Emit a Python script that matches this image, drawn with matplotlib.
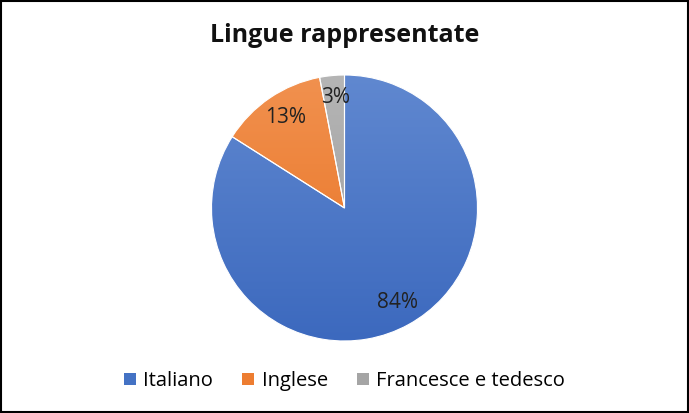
import numpy as np
import matplotlib.pyplot as plt
from matplotlib.patches import Rectangle
from matplotlib.colors import LinearSegmentedColormap

labels = ['Italiano', 'Inglese', 'Francesce e tedesco']
values = [84, 13, 3]
colors = ['#4472C4', '#ED7D31', '#A5A5A5']
light = ['#6088D0', '#F1914F', '#B5B5B5']
dark = ['#3C69BE', '#E8701F', '#9A9A9A']

plt.rcParams['font.family'] = ['Open Sans', 'DejaVu Sans']

fig = plt.figure(figsize=(6.89, 4.13), dpi=100)
ax = fig.add_axes([0.5 - 133 / 689, 1 - 341 / 413, 266 / 689, 266 / 413])

wedges, texts = ax.pie(values, colors=colors, startangle=90, counterclock=False,
                       radius=1.0, wedgeprops=dict(edgecolor='white', linewidth=0.8))
ax.set_xlim(-1, 1)
ax.set_ylim(-1, 1)
ax.set_aspect('equal')

# vertical gradient inside each slice, lighter at the top
for w, c1, c2 in zip(wedges, light, dark):
    cmap = LinearSegmentedColormap.from_list('g', [c2, c1])
    grad = np.linspace(0, 1, 256).reshape(-1, 1)
    im = ax.imshow(grad, cmap=cmap, extent=(-1, 1, -1, 1), origin='lower',
                   aspect='auto', zorder=w.get_zorder() + 0.1)
    im.set_clip_path(w)
for w in wedges:
    w.set_facecolor('none')
    w.set_zorder(5)

# percentage labels
label_pos = [(0.40, -0.71), (-0.44, 0.68), (-0.07, 0.83)]
for v, (x, y) in zip(values, label_pos):
    ax.text(x, y, f'{v}%', ha='center', va='center', fontsize=15,
            color='#222222', zorder=10)

fig.text(0.5, 1 - 36 / 413, 'Lingue rappresentate', ha='center', va='center',
         fontsize=18, fontweight='bold', color='#111111')

handles = [Rectangle((0, 0), 1, 1, facecolor=c) for c in colors]
fig.legend(handles, labels, loc='center', bbox_to_anchor=(0.5, 1 - 381 / 413),
           ncol=3, frameon=False, fontsize=14.5, handlelength=0.6, handleheight=0.6,
           handletextpad=0.35, columnspacing=1.45)

fig.add_artist(Rectangle((0.001, 0.002), 0.997, 0.996, transform=fig.transFigure,
                         fill=False, edgecolor='black', linewidth=1.5))

fig.savefig('out.png', dpi=100, facecolor='white')
